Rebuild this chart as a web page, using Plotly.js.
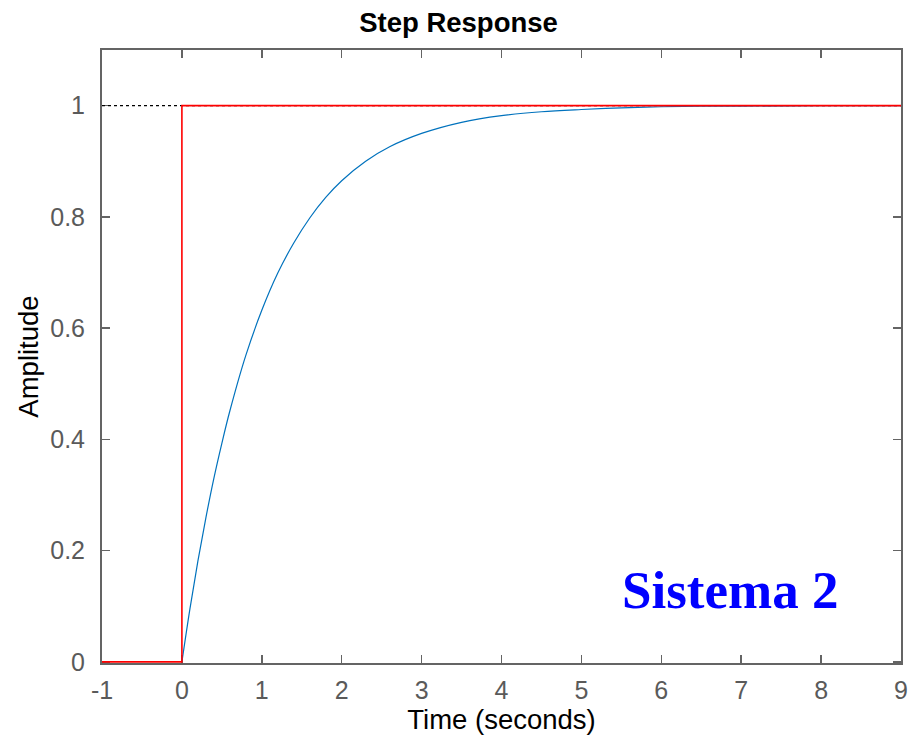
<!DOCTYPE html>
<html>
<head>
<meta charset="utf-8">
<script src="https://cdn.plot.ly/plotly-3.0.1.min.js"></script>
<style>html,body{margin:0;padding:0;background:#fff;}#chart{width:917px;height:738px;}</style>
</head>
<body>
<div id="chart"></div>
<script>
// Blue system response
const respT = [0, 0.1, 0.2, 0.3, 0.4, 0.5, 0.6, 0.8, 1.0, 1.2, 1.4, 1.6, 1.8, 2.0, 2.3, 2.6, 3.0, 3.5, 4.0, 4.5, 5.0, 5.5, 6.0, 6.5, 7.0, 8.0, 9.0];
const respY = [0, 0.095, 0.181, 0.259, 0.330, 0.393, 0.451, 0.551, 0.632, 0.699, 0.753, 0.798, 0.835, 0.865, 0.900, 0.926, 0.950, 0.970, 0.982, 0.989, 0.993, 0.996, 0.998, 0.999, 0.999, 1.0, 1.0];
// Red step input
const stepT = [-1, 0, 0, 9];
const stepY = [0, 0, 1, 1];
// Steady-state reference line
const refT = [-1, 9];
const refY = [1, 1];
const xTicks = [-1, 0, 1, 2, 3, 4, 5, 6, 7, 8, 9];
const yTicks = [0, 0.2, 0.4, 0.6, 0.8, 1];
const yTickText = ['0', '0.2', '0.4', '0.6', '0.8', '1'];
const titleText = 'Step Response';
const xTitle = 'Time (seconds)';
const yTitle = 'Amplitude';
const labelText = 'Sistema 2';

const traces = [
  {x: refT, y: refY, mode: 'lines', line: {color: '#000', width: 1.2, dash: 'dot'}, hoverinfo: 'skip'},
  {x: respT, y: respY, mode: 'lines', line: {color: '#0072BD', width: 1.2, shape: 'spline'}},
  {x: stepT, y: stepY, mode: 'lines', line: {color: '#FF0000', width: 1.6}}
];

const fam = 'Liberation Sans, Arial, sans-serif';
const axisCommon = {
  showline: true, linecolor: '#646464', linewidth: 2, mirror: 'ticks',
  ticks: 'inside', ticklen: 8, tickwidth: 1.5, tickcolor: '#646464',
  showgrid: false, zeroline: false, layer: 'below traces',
  tickfont: {family: fam, size: 25, color: '#5a5a5a'}
};

const layout = {
  width: 917, height: 738,
  margin: {l: 102, r: 16, t: 50, b: 75},
  paper_bgcolor: '#fff', plot_bgcolor: '#fff',
  showlegend: false,
  title: {text: '<b>' + titleText + '</b>', x: 0.5, xanchor: 'center', y: 0.970, yanchor: 'middle',
          font: {family: fam, size: 27.5, color: '#000'}},
  xaxis: Object.assign({}, axisCommon, {
    range: [-1, 9], tickvals: xTicks, ticktext: xTicks.map(String),
    ticklabelstandoff: 4,
    title: {text: xTitle, standoff: 2, font: {family: fam, size: 27.5, color: '#000'}}
  }),
  yaxis: Object.assign({}, axisCommon, {
    range: [-0.002, 1.1], tickvals: yTicks, ticktext: yTickText,
    ticklabelstandoff: 10,
    title: {text: yTitle, standoff: 4, font: {family: fam, size: 27.5, color: '#000'}}
  }),
  annotations: [{
    x: 6.86, y: 0.13, xref: 'x', yref: 'y', text: '<b>' + labelText + '</b>', showarrow: false,
    xanchor: 'center', yanchor: 'middle',
    font: {family: 'Liberation Serif, Times New Roman, serif', size: 53, color: '#0000FF'}
  }]
};

Plotly.newPlot('chart', traces, layout, {displayModeBar: false, staticPlot: true});
</script>
</body>
</html>
